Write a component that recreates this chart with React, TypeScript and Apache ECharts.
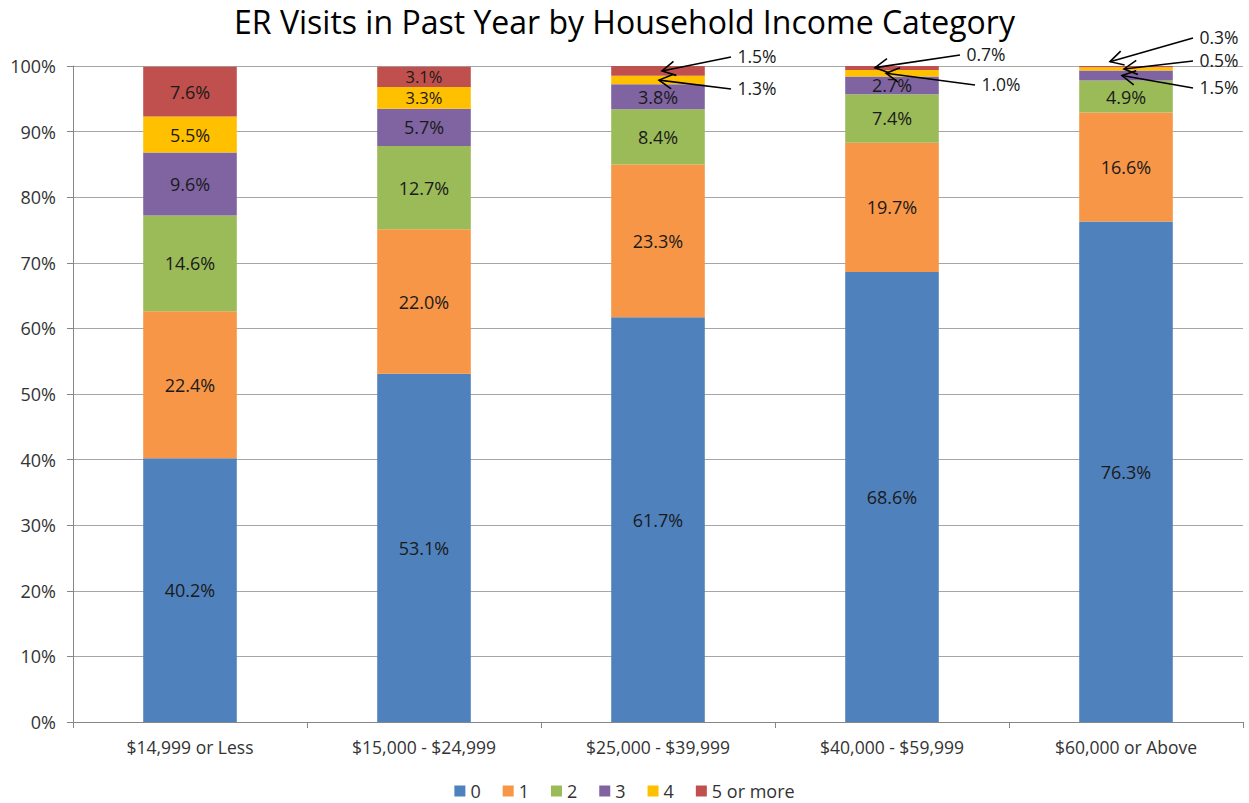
import React, { useEffect, useRef } from "react";
import * as echarts from "echarts";

const categories = ["$14,999 or Less", "$15,000 - $24,999", "$25,000 - $39,999", "$40,000 - $59,999", "$60,000 or Above"];
const seriesNames = ["0", "1", "2", "3", "4", "5 or more"];
const visits0 = [40.2, 53.1, 61.7, 68.6, 76.3];
const visits1 = [22.4, 22.0, 23.3, 19.7, 16.6];
const visits2 = [14.6, 12.7, 8.4, 7.4, 4.9];
const visits3 = [9.6, 5.7, 3.8, 2.7, 1.5];
const visits4 = [5.5, 3.3, 1.3, 1.0, 0.5];
const visits5 = [7.6, 3.1, 1.5, 0.7, 0.3];
const yTicks = [0, 10, 20, 30, 40, 50, 60, 70, 80, 90, 100];

const allSeries = [visits0, visits1, visits2, visits3, visits4, visits5];
const colors = ["#4F81BD", "#F79646", "#9BBB59", "#8064A2", "#FFC000", "#C0504D"];

// external call-out labels: [category index, series index] with layout offsets (pixels)
const callouts = [
  { cat: 2, s: 5, dx: 99, y: 56, tipDx: 4, tipDy: 0 },
  { cat: 2, s: 4, dx: 99, y: 88, tipDx: 1, tipDy: 0 },
  { cat: 3, s: 5, dx: 94, y: 54, tipDx: -17, tipDy: 0 },
  { cat: 3, s: 4, dx: 109, y: 84, tipDx: -6, tipDy: 0 },
  { cat: 4, s: 5, dx: 93, y: 37, tipDx: -16, tipDy: -5 },
  { cat: 4, s: 4, dx: 93, y: 60, tipDx: -2, tipDy: 0 },
  { cat: 4, s: 3, dx: 93, y: 87, tipDx: -4, tipDy: 0 },
];
// thin segments whose inside labels get a slightly smaller font
const tightLabels = [
  { cat: 1, s: 4 },
  { cat: 1, s: 5 },
];

const FONT = "'Open Sans', Lato, sans-serif";

export default function App() {
  const ref = useRef<HTMLDivElement>(null);
  useEffect(() => {
    document.body.style.margin = "0";
    const chart = echarts.init(ref.current!, null, { renderer: "svg" });
    const isCallout = (c: number, s: number) => callouts.some((o) => o.cat === c && o.s === s);
    const isTight = (c: number, s: number) => tightLabels.some((o) => o.cat === c && o.s === s);
    chart.setOption({
      animation: false,
      title: {
        text: "ER Visits in Past Year by Household Income Category",
        left: "center",
        top: 2,
        padding: 0,
        textStyle: { fontFamily: FONT, fontSize: 32, lineHeight: 38, fontWeight: "normal", color: "#000" },
      },
      legend: {
        bottom: -2,
        left: "center",
        itemWidth: 11,
        itemHeight: 11,
        itemGap: 22,
        icon: "rect",
        textStyle: { fontFamily: FONT, fontSize: 18, color: "#333" },
        data: seriesNames,
      },
      grid: { left: 73, right: 6, top: 66, bottom: 81, containLabel: false },
      xAxis: {
        type: "category",
        data: categories,
        axisLine: { lineStyle: { color: "#868686" } },
        axisTick: { show: true, lineStyle: { color: "#868686" }, length: 6 },
        axisLabel: { fontFamily: FONT, fontSize: 17.5, color: "#333", margin: 16 },
      },
      yAxis: {
        type: "value",
        min: yTicks[0],
        max: yTicks[yTicks.length - 1],
        interval: yTicks[1] - yTicks[0],
        axisLine: { show: true, lineStyle: { color: "#868686" } },
        axisTick: { show: true, lineStyle: { color: "#868686" }, length: 6 },
        axisLabel: { formatter: "{value}%", fontFamily: FONT, fontSize: 18, color: "#333", margin: 17 },
        splitLine: { lineStyle: { color: "#A6A6A6" } },
      },
      series: allSeries.map((arr, si) => ({
        name: seriesNames[si],
        type: "bar",
        stack: "total",
        barWidth: "40%",
        itemStyle: { color: colors[si] },
        label: {
          show: true,
          position: "inside",
          fontFamily: FONT,
          fontSize: 18,
          color: "#1a1a1a",
          formatter: (p: any) => p.value.toFixed(1) + "%",
        },
        data: arr.map((v, ci) =>
          isCallout(ci, si)
            ? { value: v, label: { show: false } }
            : isTight(ci, si)
            ? { value: v, label: { fontSize: 16.5, lineHeight: 17 } }
            : v
        ),
      })),
    });

    const graphics: any[] = [];
    callouts.forEach((o) => {
      let base = 0;
      for (let i = 0; i < o.s; i++) base += allSeries[i][o.cat];
      const mid = base + allSeries[o.s][o.cat] / 2;
      const [cx, cy] = chart.convertToPixel({ gridIndex: 0 }, [o.cat, Math.min(mid, 99.9)]) as number[];
      const tipX = cx + o.tipDx;
      const tipY = cy + o.tipDy;
      const tx = cx + o.dx;
      const startX = tx - 26;
      const startY = o.y + 1;
      graphics.push({
        type: "text",
        x: tx,
        y: o.y,
        z: 100,
        style: {
          text: allSeries[o.s][o.cat].toFixed(1) + "%",
          fontFamily: FONT,
          fontSize: 17.5,
          fill: "#1a1a1a",
          align: "center",
          verticalAlign: "middle",
        },
      });
      graphics.push({
        type: "line",
        z: 100,
        shape: { x1: startX, y1: startY, x2: tipX, y2: tipY },
        style: { stroke: "#000", lineWidth: 1.6 },
      });
      const ang = Math.atan2(startY - tipY, startX - tipX);
      const L = 15;
      const spread = 0.5;
      graphics.push({
        type: "polyline",
        z: 100,
        shape: {
          points: [
            [tipX + L * Math.cos(ang + spread), tipY + L * Math.sin(ang + spread)],
            [tipX, tipY],
            [tipX + L * Math.cos(ang - spread), tipY + L * Math.sin(ang - spread)],
          ],
        },
        style: { stroke: "#000", lineWidth: 1.6, fill: null },
      });
    });
    chart.setOption({ graphic: graphics });

    return () => chart.dispose();
  }, []);
  return <div ref={ref} style={{ width: 1249, height: 803 }} />;
}
